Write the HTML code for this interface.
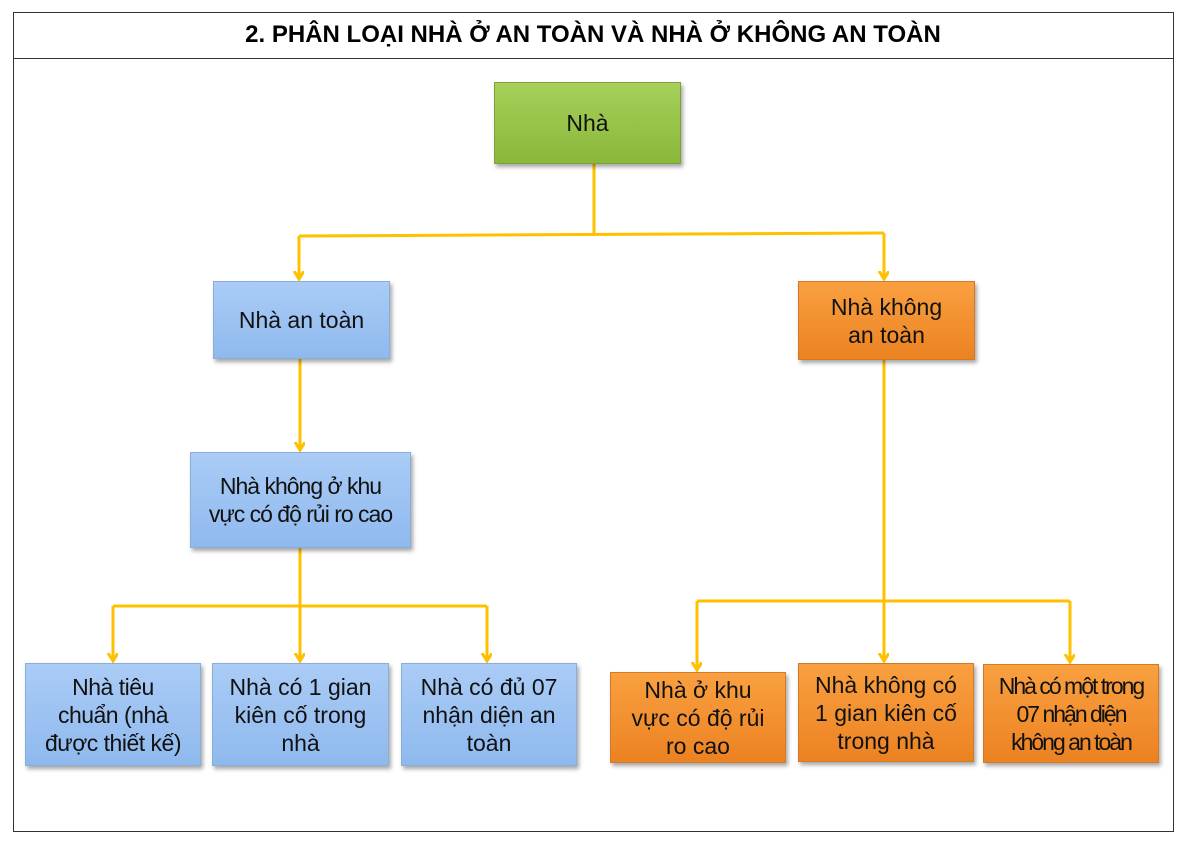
<!DOCTYPE html>
<html><head><meta charset="utf-8"><style>
body{margin:0;width:1189px;height:844px;background:#fff;position:relative;font-family:"Liberation Sans",sans-serif;overflow:hidden}
.frame{position:absolute;left:13px;top:12px;width:1159px;height:818px;border:1px solid #333}
.title{position:absolute;left:13px;top:12px;width:1160px;height:46px;border-bottom:1px solid #333;text-align:center;font-weight:bold;font-size:24px;line-height:46px;color:#000}
.b{position:absolute;display:flex;align-items:center;justify-content:center;text-align:center;font-size:23px;line-height:28px;color:#111;box-shadow:2px 3px 4px rgba(0,0,0,.35);box-sizing:border-box;white-space:nowrap}
.g{background:linear-gradient(#a6d05a,#8ab83a);border:1px solid #7da23a}
.bl{background:linear-gradient(#aaccf6,#8fb9ee);border:1px solid #8aaed8}
.o{background:linear-gradient(#f9a040,#ec8222);border:1px solid #d37a26}
svg{position:absolute;left:0;top:0}
</style></head><body>
<div class="frame"></div>
<div class="title">2. PHÂN LOẠI NHÀ Ở AN TOÀN VÀ NHÀ Ở KHÔNG AN TOÀN</div>
<svg width="1189" height="844">
<defs><marker id="a" markerWidth="10" markerHeight="12" refX="8" refY="5" orient="auto" markerUnits="userSpaceOnUse"><path d="M0,0 L8,5 L0,10" fill="none" stroke="#FFC000" stroke-width="3"/></marker></defs>
<g stroke="#FFC000" stroke-width="3" fill="none">
<path d="M594,164 V234"/><path d="M299,236 L884,233"/>
<path d="M299,236 V279" marker-end="url(#a)"/><path d="M884,233 V279" marker-end="url(#a)"/>
<path d="M300,359 V450" marker-end="url(#a)"/>
<path d="M300,548 V606"/><path d="M113,606 H487"/>
<path d="M113,606 V661" marker-end="url(#a)"/><path d="M300,606 V661" marker-end="url(#a)"/><path d="M487,606 V661" marker-end="url(#a)"/>
<path d="M884,360 V601"/><path d="M697,601 H1070"/>
<path d="M697,601 V670" marker-end="url(#a)"/><path d="M884,601 V661" marker-end="url(#a)"/><path d="M1070,601 V662" marker-end="url(#a)"/>
</g></svg>
<div class="b g" style="left:494px;top:82px;width:187px;height:82px">Nhà</div>
<div class="b bl" style="left:213px;top:281px;width:177px;height:78px">Nhà an toàn</div>
<div class="b o" style="left:798px;top:281px;width:177px;height:79px">Nhà không<br>an toàn</div>
<div class="b bl" style="left:190px;top:452px;width:221px;height:96px;letter-spacing:-1px">Nhà không ở khu<br>vực có độ rủi ro cao</div>
<div class="b bl" style="left:25px;top:663px;width:176px;height:103px;letter-spacing:-0.5px">Nhà tiêu<br>chuẩn (nhà<br>được thiết kế)</div>
<div class="b bl" style="left:212px;top:663px;width:177px;height:103px">Nhà có 1 gian<br>kiên cố trong<br>nhà</div>
<div class="b bl" style="left:401px;top:663px;width:176px;height:103px">Nhà có đủ 07<br>nhận diện an<br>toàn</div>
<div class="b o" style="left:610px;top:672px;width:176px;height:91px">Nhà ở khu<br>vực có độ rủi<br>ro cao</div>
<div class="b o" style="left:798px;top:663px;width:176px;height:99px">Nhà không có<br>1 gian kiên cố<br>trong nhà</div>
<div class="b o" style="left:983px;top:664px;width:176px;height:99px;letter-spacing:-2px">Nhà có một trong<br>07 nhận diện<br>không an toàn</div>
</body></html>
